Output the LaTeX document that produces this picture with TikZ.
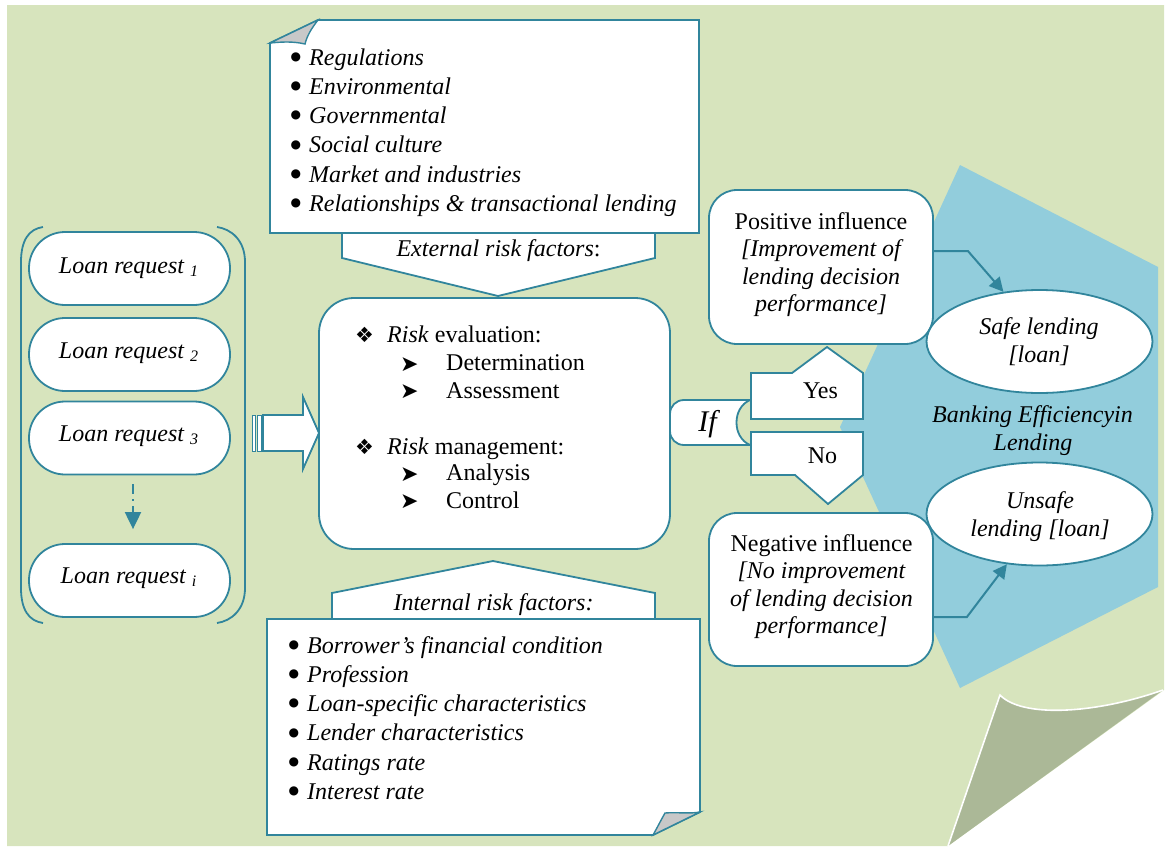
\documentclass[tikz,border=0pt]{standalone}
\usepackage{fontspec}
\setmainfont{Liberation Serif}
\newfontfamily\dingfont{DejaVu Sans}
\usetikzlibrary{arrows.meta,shapes.geometric}

\definecolor{bggreen}{HTML}{D7E4BD}
\definecolor{edgeteal}{HTML}{31859C}
\definecolor{hexblue}{HTML}{92CDDC}
\definecolor{foldgreen}{HTML}{ABB897}
\definecolor{foldgrey}{HTML}{C8C8C8}

% list marks
\newcommand{\listdot}{\makebox[19pt][l]{\hspace{0.5pt}\raisebox{4.7pt}{\dingfont\fontsize{12}{12}\selectfont ●}}}
\newcommand{\headmark}{\makebox[32pt][l]{\dingfont\fontsize{21}{21}\selectfont ❖}}
\newcommand{\submark}{\makebox[47pt][l]{\hspace{1pt}\raisebox{-0.5pt}{\dingfont\fontsize{22}{22}\selectfont ➤}}}

\begin{document}
\begin{tikzpicture}[x=1pt,y=-1pt,
  tealline/.style={draw=edgeteal, line width=1.8pt, line join=miter},
  card/.style={tealline, fill=white},
  txt/.style={font=\fontsize{24}{29}\selectfont, inner sep=0pt, text=black},
  lrpill/.style={card, rounded corners=36pt, minimum width=201pt, minimum height=73pt, inner sep=0pt},
  infobox/.style={card, rounded corners=28pt, minimum width=224pt, minimum height=154pt, inner sep=0pt},
  resultoval/.style={card, ellipse, minimum width=226pt, minimum height=103pt, inner sep=0pt},
  flowarrow/.style={draw=edgeteal, line width=2pt, -{Triangle[length=14pt,width=14pt]}},
]
\useasboundingbox (0,0) rectangle (1167,846);

% page background with the curled corner
\fill[bggreen] (7,5) -- (1164,5) -- (1164,690) -- (948,846) -- (7,846) -- cycle;
% banking efficiency area
\fill[hexblue] (960,165) -- (1158,267) -- (1158,587) -- (960,688) -- (840,427) -- cycle;
% curl
\fill[foldgreen] (1000,695) .. controls (1022,718) and (1095,714) .. (1163,690) -- (948,846) -- cycle;
\draw[white, line width=1.6pt] (948,846) -- (1000,695) .. controls (1022,718) and (1095,714) .. (1163,690);

% ---------- loan requests ----------
\draw[edgeteal, line width=1.8pt] (43,227) .. controls (29,229) and (21,240) .. (21,262) -- (21,588) .. controls (21,610) and (29,621) .. (43,623);
\draw[edgeteal, line width=1.8pt] (217,227) .. controls (231,229) and (245,240) .. (245,262) -- (245,588) .. controls (245,610) and (231,621) .. (217,623);

\node[lrpill] (lr1) at (129.5,268.5) {};
\node[lrpill] (lr2) at (129.5,354.5) {};
\node[lrpill] (lr3) at (129.5,438) {};
\node[lrpill] (lr4) at (129.5,580.5) {};
\node[txt, anchor=base] (lt1) at (128.5,273) {\itshape Loan request \raisebox{-3pt}{\fontsize{16}{16}\selectfont 1}};
\node[txt, anchor=base] (lt2) at (128.5,358.3) {\itshape Loan request \raisebox{-3pt}{\fontsize{16}{16}\selectfont 2}};
\node[txt, anchor=base] (lt3) at (128.5,441.7) {\itshape Loan request \raisebox{-3pt}{\fontsize{16}{16}\selectfont 3}};
\node[txt, anchor=base] (lt4) at (128.5,583.3) {\itshape Loan request \raisebox{-3pt}{\fontsize{16}{16}\selectfont i}};

\draw[edgeteal, line width=2pt, dash pattern=on 10pt off 5pt on 2pt off 5pt,
  -{Triangle[length=17pt,width=16pt]}]
  ([xshift=3.5pt,yshift=-9pt]lr3.south) -- ([xshift=3.5pt,yshift=14pt]lr4.north);

% striped block arrow
\filldraw[fill=white, draw=edgeteal, line width=1pt] (252,415) rectangle (255,451);
\filldraw[fill=white, draw=edgeteal, line width=1pt] (257,415) rectangle (261,451);
\filldraw[card] (263,415) -- (303,415) -- (303,397) -- (319,433) -- (303,469) -- (303,451) -- (263,451) -- cycle;

% ---------- external risk factors ----------
\filldraw[card] (342,225) -- (655,225) -- (655,258) -- (498,296) -- (342,258) -- cycle;
\filldraw[card] (270,43) -- (318,20) -- (699,20) -- (699,233) -- (270,233) -- cycle;
\filldraw[tealline, fill=foldgrey, line width=1.4pt] (270,43) -- (318,20) .. controls (311,29) and (307,36) .. (305,44) .. controls (292,41) and (281,42) .. (270,43) -- cycle;
\node[txt, anchor=base] (exttitle) at (498.5,256.7) {\textit{External risk factors}:};
\foreach \t [count=\i] in {Regulations,Environmental,Governmental,Social culture,Market and industries,Relationships \& transactional lending}
  \node[txt, anchor=base west] (ext\i) at (290,{65+29.3*(\i-1)}) {\listdot\textit{\t}};

% ---------- internal risk factors ----------
\filldraw[card] (332,627) -- (332,593) -- (493,561) -- (655,593) -- (655,627) -- cycle;
\filldraw[card] (267,619) -- (700,619) -- (700,812) -- (653,835) -- (267,835) -- cycle;
\filldraw[tealline, fill=foldgrey, line width=1.4pt] (653,835) -- (700,812) .. controls (690,814) and (676,812) .. (665,813) .. controls (661,820) and (657,828) .. (653,835) -- cycle;
\node[txt, anchor=base] (inttitle) at (493.5,610.7) {\itshape Internal risk factors:};
\foreach \t [count=\i] in {Borrower’s financial condition,Profession,Loan-specific characteristics,Lender characteristics,Ratings rate,Interest rate}
  \node[txt, anchor=base west] (int\i) at (288,{653+29.3*(\i-1)}) {\listdot\textit{\t}};

% ---------- risk evaluation / management ----------
\node[card, rounded corners=35pt, minimum width=351pt, minimum height=251pt, inner sep=0pt] (core) at (494.5,423.5) {};
\node[txt, anchor=base west] (ev) at (355,342.7) {\headmark\textit{Risk} evaluation:};
\node[txt, anchor=base west] (ev1) at (399,370.7) {\submark Determination};
\node[txt, anchor=base west] (ev2) at (399,398.3) {\submark Assessment};
\node[txt, anchor=base west] (mg) at (355,454) {\headmark\textit{Risk} management:};
\node[txt, anchor=base west] (mg1) at (399,480.7) {\submark Analysis};
\node[txt, anchor=base west] (mg2) at (399,508.3) {\submark Control};

% ---------- decision ----------
\filldraw[card] (750,400) -- (684,400) .. controls (676,400) and (670,406) .. (670,414) -- (670,431) .. controls (670,439) and (676,445) .. (684,445) -- (750,445) .. controls (741,441) and (736.5,432) .. (736.5,422.5) .. controls (736.5,413) and (741,404) .. (750,400) -- cycle;
\node[font=\fontsize{30}{30}\selectfont\itshape, inner sep=0pt, anchor=base] (iftxt) at (707.5,431.7) {If};
\filldraw[card] (751,419) -- (751,373) -- (792,373) -- (827,347) -- (863,373) -- (863,419) -- cycle;
\filldraw[card] (751,432) -- (863,432) -- (863,475) -- (828,504) -- (795,475) -- (751,475) -- cycle;
\node[txt, anchor=base] (yes) at (820.5,398.3) {Yes};
\node[txt, anchor=base] (no) at (822.5,463.3) {No};

% ---------- influence ----------
\node[infobox] (pos) at (821,267) {};
\node[txt, anchor=base] (pos1) at (821,229.3) {Positive influence};
\node[txt, anchor=base] (pos2) at (821,256.8) {\itshape [Improvement of};
\node[txt, anchor=base] (pos3) at (821,284.3) {\itshape lending decision};
\node[txt, anchor=base] (pos4) at (821,311.8) {\itshape performance]};

\node[infobox, minimum height=153pt] (neg) at (821,589.5) {};
\node[txt, anchor=base] (neg1) at (821.5,551.7) {Negative influence};
\node[txt, anchor=base] (neg2) at (821.5,578.8) {\itshape [No improvement};
\node[txt, anchor=base] (neg3) at (821.5,606) {\itshape of lending decision};
\node[txt, anchor=base] (neg4) at (821.5,633.3) {\itshape performance]};

% ---------- outcomes ----------
\node[resultoval] (safe) at (1039.5,341.5) {};
\node[txt, anchor=base] (safe1) at (1039,334) {\itshape Safe lending};
\node[txt, anchor=base] (safe2) at (1039,362.7) {\itshape [loan]};
\node[resultoval] (unsafe) at (1039.5,514) {};
\node[txt, anchor=base] (unsafe1) at (1040,508.3) {\itshape Unsafe};
\node[txt, anchor=base] (unsafe2) at (1040,536.7) {\itshape lending [loan]};
\node[txt, anchor=base] (bank1) at (1032.5,422.7) {\itshape Banking Efficiencyin};
\node[txt, anchor=base] (bank2) at (1033,450) {\itshape Lending};

\draw[flowarrow] ([yshift=16pt]pos.east) -- ++(34,0) -- (safe.126);
\draw[flowarrow] ([yshift=-27.5pt]neg.east) -- ++(33,0) -- (unsafe.237);
\end{tikzpicture}
\end{document}
